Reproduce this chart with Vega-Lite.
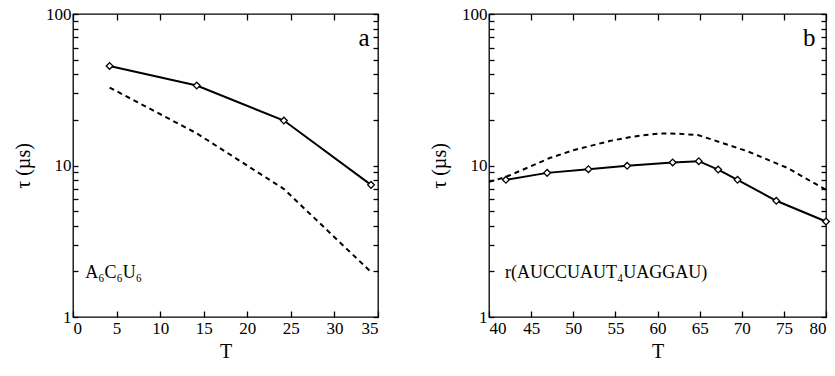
{
  "$schema": "https://vega.github.io/schema/vega-lite/v6.json",
  "padding": {"left": 12, "top": 4, "right": 2, "bottom": 2},
  "background": "white",
  "config": {
    "view": {"stroke": "black", "strokeWidth": 1.3},
    "concat": {"spacing": 48}
  },
  "datasets": {
    "aLines": [
      {"T": 4.2, "tau": 45.4, "s": "solid"},
      {"T": 14.2, "tau": 33.7, "s": "solid"},
      {"T": 24.2, "tau": 19.8, "s": "solid"},
      {"T": 34.2, "tau": 7.45, "s": "solid"},
      {"T": 4.2, "tau": 32.7, "s": "dash"},
      {"T": 14.2, "tau": 16.3, "s": "dash"},
      {"T": 24.2, "tau": 7.0, "s": "dash"},
      {"T": 34.2, "tau": 1.98, "s": "dash"}
    ],
    "bLines": [
      {"T": 42.0, "tau": 8.05, "s": "solid"},
      {"T": 46.9, "tau": 8.94, "s": "solid"},
      {"T": 51.8, "tau": 9.46, "s": "solid"},
      {"T": 56.4, "tau": 9.95, "s": "solid"},
      {"T": 61.8, "tau": 10.47, "s": "solid"},
      {"T": 64.9, "tau": 10.68, "s": "solid"},
      {"T": 67.2, "tau": 9.4, "s": "solid"},
      {"T": 69.5, "tau": 8.05, "s": "solid"},
      {"T": 74.1, "tau": 5.85, "s": "solid"},
      {"T": 80.0, "tau": 4.27, "s": "solid"},
      {"T": 40.0, "tau": 7.8, "s": "dash"},
      {"T": 42.0, "tau": 8.4, "s": "dash"},
      {"T": 45.0, "tau": 9.9, "s": "dash"},
      {"T": 47.2, "tau": 11.2, "s": "dash"},
      {"T": 50.0, "tau": 12.6, "s": "dash"},
      {"T": 54.3, "tau": 14.5, "s": "dash"},
      {"T": 57.0, "tau": 15.5, "s": "dash"},
      {"T": 60.3, "tau": 16.3, "s": "dash"},
      {"T": 62.5, "tau": 16.2, "s": "dash"},
      {"T": 64.8, "tau": 15.9, "s": "dash"},
      {"T": 67.5, "tau": 14.2, "s": "dash"},
      {"T": 70.7, "tau": 12.4, "s": "dash"},
      {"T": 75.5, "tau": 9.6, "s": "dash"},
      {"T": 80.0, "tau": 6.9, "s": "dash"}
    ],
    "aText": [
      {"T": 33.4, "tau": 69, "label": "a", "kind": "panel"},
      {"T": 1.4, "tau": 1.95, "label": "A₆C₆U₆", "kind": "name"}
    ],
    "bText": [
      {"T": 78.0, "tau": 69, "label": "b", "kind": "panel"},
      {"T": 41.9, "tau": 1.95, "label": "r(AUCCUAUT₄UAGGAU)", "kind": "name"}
    ]
  },
  "hconcat": [
    {
      "width": 305,
      "height": 303,
      "resolve": {"axis": {"x": "independent", "y": "independent"}},
      "layer": [
        {
          "data": {"name": "aLines"},
          "transform": [{"filter": "datum.s == 'solid'"}],
          "mark": {"type": "line", "color": "black", "strokeWidth": 2},
          "encoding": {
            "x": {"field": "T", "type": "quantitative", "scale": {"domain": [0, 35], "nice": false},
                  "axis": {"orient": "bottom", "title": "T", "values": [0, 5, 10, 15, 20, 25, 30, 35],
                           "grid": false, "domain": false, "tickColor": "black", "tickWidth": 1.3, "tickSize": -6,
                           "labelFont": "serif", "labelFontSize": 17, "labelColor": "black", "labelPadding": 9,
                           "titleFont": "serif", "titleFontSize": 20, "titleFontWeight": "normal", "titleColor": "black", "titlePadding": 5}},
            "y": {"field": "tau", "type": "quantitative", "scale": {"type": "log", "domain": [1, 100], "nice": false},
                  "axis": {"orient": "left", "title": "τ (µs)", "titlePadding": 12,
                           "values": [1,2,3,4,5,6,7,8,9,10,20,30,40,50,60,70,80,90,100],
                           "labelExpr": "indexof([1,10,100], datum.value) >= 0 ? format(datum.value, 'd') : ''",
                           "grid": false, "domain": false, "tickColor": "black", "tickWidth": 1.3, "tickSize": -5,
                           "labelFont": "serif", "labelFontSize": 17, "labelColor": "black", "labelPadding": 7,
                           "titleFont": "serif", "titleFontSize": 20, "titleFontWeight": "normal", "titleColor": "black"}}
          }
        },
        {
          "data": {"name": "aLines"},
          "transform": [{"filter": "datum.s == 'dash'"}],
          "mark": {"type": "line", "color": "black", "strokeWidth": 2, "strokeDash": [5, 4]},
          "encoding": {
            "x": {"field": "T", "type": "quantitative",
                  "axis": {"orient": "top", "title": null, "labels": false, "values": [0, 5, 10, 15, 20, 25, 30, 35],
                           "grid": false, "domain": false, "tickColor": "black", "tickWidth": 1.3, "tickSize": -6}},
            "y": {"field": "tau", "type": "quantitative",
                  "axis": {"orient": "right", "title": null, "labels": false,
                           "values": [1,2,3,4,5,6,7,8,9,10,20,30,40,50,60,70,80,90,100],
                           "grid": false, "domain": false, "tickColor": "black", "tickWidth": 1.3, "tickSize": -5}}
          }
        },
        {
          "data": {"name": "aLines"},
          "transform": [{"filter": "datum.s == 'solid'"}],
          "mark": {"type": "point", "shape": "diamond", "filled": true, "fill": "white", "stroke": "black", "strokeWidth": 1.3, "size": 45, "opacity": 1},
          "encoding": {
            "x": {"field": "T", "type": "quantitative", "axis": null},
            "y": {"field": "tau", "type": "quantitative", "axis": null}
          }
        },
        {
          "data": {"name": "aText"},
          "transform": [{"filter": "datum.kind == 'panel'"}],
          "mark": {"type": "text", "align": "center", "baseline": "middle", "fontSize": 25, "font": "serif", "color": "black"},
          "encoding": {
            "x": {"field": "T", "type": "quantitative", "axis": null},
            "y": {"field": "tau", "type": "quantitative", "axis": null},
            "text": {"field": "label"}
          }
        },
        {
          "data": {"name": "aText"},
          "transform": [{"filter": "datum.kind == 'name'"}],
          "mark": {"type": "text", "align": "left", "baseline": "middle", "fontSize": 18, "font": "serif", "color": "black"},
          "encoding": {
            "x": {"field": "T", "type": "quantitative", "axis": null},
            "y": {"field": "tau", "type": "quantitative", "axis": null},
            "text": {"field": "label"}
          }
        }
      ]
    },
    {
      "width": 337,
      "height": 303,
      "resolve": {"axis": {"x": "independent", "y": "independent"}},
      "layer": [
        {
          "data": {"name": "bLines"},
          "transform": [{"filter": "datum.s == 'solid'"}],
          "mark": {"type": "line", "color": "black", "strokeWidth": 2},
          "encoding": {
            "x": {"field": "T", "type": "quantitative", "scale": {"domain": [40, 80], "nice": false},
                  "axis": {"orient": "bottom", "title": "T", "values": [40, 45, 50, 55, 60, 65, 70, 75, 80],
                           "grid": false, "domain": false, "tickColor": "black", "tickWidth": 1.3, "tickSize": -6,
                           "labelFont": "serif", "labelFontSize": 17, "labelColor": "black", "labelPadding": 9,
                           "titleFont": "serif", "titleFontSize": 20, "titleFontWeight": "normal", "titleColor": "black", "titlePadding": 5}},
            "y": {"field": "tau", "type": "quantitative", "scale": {"type": "log", "domain": [1, 100], "nice": false},
                  "axis": {"orient": "left", "title": "τ (µs)", "titlePadding": 12,
                           "values": [1,2,3,4,5,6,7,8,9,10,20,30,40,50,60,70,80,90,100],
                           "labelExpr": "indexof([1,10,100], datum.value) >= 0 ? format(datum.value, 'd') : ''",
                           "grid": false, "domain": false, "tickColor": "black", "tickWidth": 1.3, "tickSize": -5,
                           "labelFont": "serif", "labelFontSize": 17, "labelColor": "black", "labelPadding": 7,
                           "titleFont": "serif", "titleFontSize": 20, "titleFontWeight": "normal", "titleColor": "black"}}
          }
        },
        {
          "data": {"name": "bLines"},
          "transform": [{"filter": "datum.s == 'dash'"}],
          "mark": {"type": "line", "color": "black", "strokeWidth": 2, "strokeDash": [5, 4]},
          "encoding": {
            "x": {"field": "T", "type": "quantitative",
                  "axis": {"orient": "top", "title": null, "labels": false, "values": [40, 45, 50, 55, 60, 65, 70, 75, 80],
                           "grid": false, "domain": false, "tickColor": "black", "tickWidth": 1.3, "tickSize": -6}},
            "y": {"field": "tau", "type": "quantitative",
                  "axis": {"orient": "right", "title": null, "labels": false,
                           "values": [1,2,3,4,5,6,7,8,9,10,20,30,40,50,60,70,80,90,100],
                           "grid": false, "domain": false, "tickColor": "black", "tickWidth": 1.3, "tickSize": -5}}
          }
        },
        {
          "data": {"name": "bLines"},
          "transform": [{"filter": "datum.s == 'solid'"}],
          "mark": {"type": "point", "shape": "diamond", "filled": true, "fill": "white", "stroke": "black", "strokeWidth": 1.3, "size": 45, "opacity": 1},
          "encoding": {
            "x": {"field": "T", "type": "quantitative", "axis": null},
            "y": {"field": "tau", "type": "quantitative", "axis": null}
          }
        },
        {
          "data": {"name": "bText"},
          "transform": [{"filter": "datum.kind == 'panel'"}],
          "mark": {"type": "text", "align": "center", "baseline": "middle", "fontSize": 25, "font": "serif", "color": "black"},
          "encoding": {
            "x": {"field": "T", "type": "quantitative", "axis": null},
            "y": {"field": "tau", "type": "quantitative", "axis": null},
            "text": {"field": "label"}
          }
        },
        {
          "data": {"name": "bText"},
          "transform": [{"filter": "datum.kind == 'name'"}],
          "mark": {"type": "text", "align": "left", "baseline": "middle", "fontSize": 18, "font": "serif", "color": "black"},
          "encoding": {
            "x": {"field": "T", "type": "quantitative", "axis": null},
            "y": {"field": "tau", "type": "quantitative", "axis": null},
            "text": {"field": "label"}
          }
        }
      ]
    }
  ]
}
